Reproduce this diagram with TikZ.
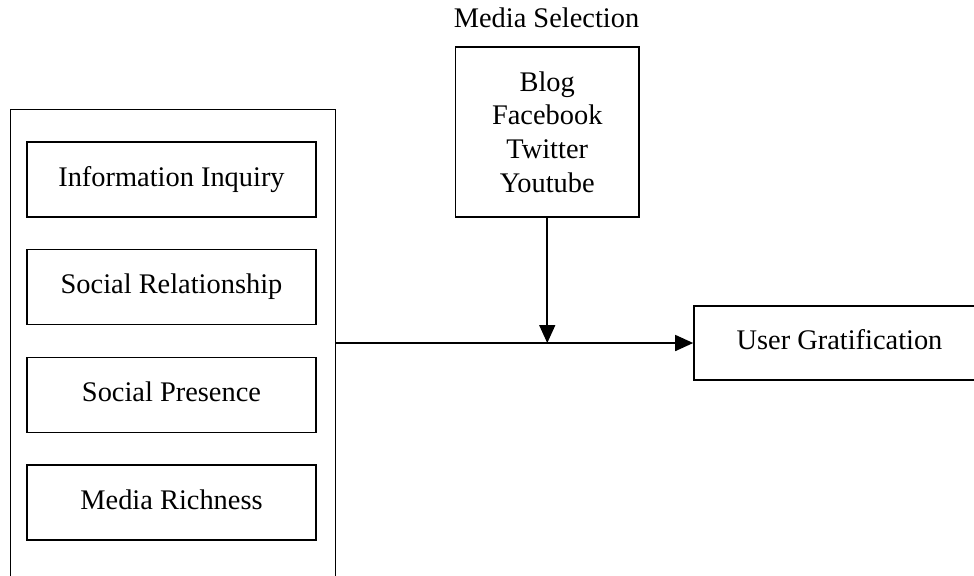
\documentclass[tikz,border=0pt]{standalone}
\usepackage{fontspec}
\setmainfont{Liberation Serif}
\usetikzlibrary{arrows.meta}
\begin{document}
\begin{tikzpicture}[x=0.5pt,y=-0.5pt,
  every node/.style={font=\fontsize{14.2}{16.85}\selectfont},
  box/.style={draw, line width=0.8pt, inner sep=0pt},
  oneline/.style={text height=0.66em, text depth=0pt},
  factor/.style={box, oneline, minimum width=144.5pt, minimum height=37.5pt},
  link/.style={line width=0.8pt, -{Triangle[length=9pt,width=8pt]}}]
\useasboundingbox (0,0) rectangle (974,575);
\node[draw=none, minimum width=162pt, minimum height=233pt, inner sep=0pt] (outer) at (173,343) {};
\draw[line width=0.8pt] (outer.south west) -- (outer.north west) -- (outer.north east) -- (outer.south east);
\node[factor] (f1) at (171.5,179.5) {Information Inquiry};
\node[factor] (f2) at (171.5,287) {Social Relationship};
\node[factor] (f3) at (171.5,395) {Social Presence};
\node[factor] (f4) at (171.5,502.5) {Media Richness};
\node[oneline] (mtitle) at (546.5,21) {Media Selection};
\node[box, minimum width=91.75pt, minimum height=85pt, align=center] (media) at (547.25,132) {Blog\\Facebook\\Twitter\\Youtube};
\node[box, oneline, minimum width=145.5pt, minimum height=37pt] (ug) at (839.5,343) {User Gratification};
\coordinate (join) at (media.south |- outer.east);
\draw[link] (media) -- (join);
\draw[link] (outer.east) -- (ug);
\end{tikzpicture}
\end{document}
